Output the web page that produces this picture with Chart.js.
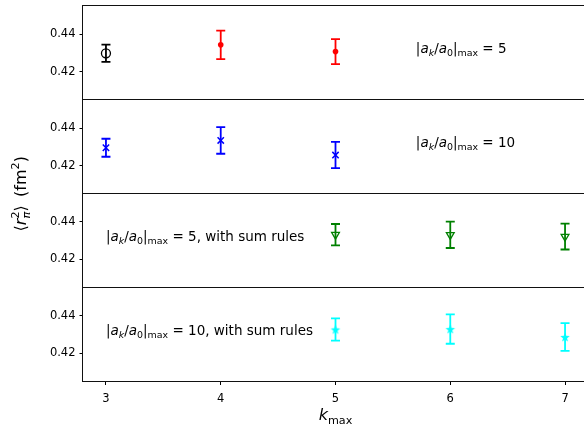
<!DOCTYPE html>
<html>
<head>
<meta charset="utf-8">
<script src="https://cdn.jsdelivr.net/npm/chart.js@4"></script>
<style>
  html, body { margin: 0; padding: 0; background: #fff; overflow: hidden; }
  #wrap { width: 600px; height: 429px; }
</style>
</head>
<body>
<div id="wrap"><canvas id="radiusChart" width="600" height="429"></canvas></div>
<script>
// valori di k_max
var kNoSum = [3, 4, 5];
var kSum = [5, 6, 7];
var kTicks = [3, 4, 5, 6, 7];
var rTicks = [0.42, 0.44];

// |a_k/a_0|max = 5 (il primo punto ha un marker diverso)
var r5First = [0.4298];
var r5FirstErr = [0.0046];
var r5 = [0.4343, 0.4307];
var r5Err = [0.0076, 0.0067];

// |a_k/a_0|max = 10
var r10 = [0.4295, 0.4334, 0.4256];
var r10Err = [0.0048, 0.0071, 0.0070];

// con sum rules
var r5Sum = [0.4332, 0.4331, 0.4322];
var r5SumErr = [0.0057, 0.0070, 0.0069];
var r10Sum = [0.4327, 0.4329, 0.4287];
var r10SumErr = [0.0059, 0.0078, 0.0074];

var FONT = '"DejaVu Sans", sans-serif';

function points(ks, vals) {
    return vals.map(function (v, i) { return { x: ks[i], y: v }; });
}

// stella piena per l'ultimo pannello
function starMarker(color) {
    var c = document.createElement('canvas');
    c.width = 12; c.height = 12;
    var g = c.getContext('2d');
    g.fillStyle = color;
    g.beginPath();
    for (var i = 0; i < 10; i++) {
        var r = i % 2 === 0 ? 5 : 2.1;
        var a = -Math.PI / 2 + i * Math.PI / 5;
        var px = 6 + r * Math.cos(a), py = 6.5 + r * Math.sin(a);
        if (i === 0) g.moveTo(px, py); else g.lineTo(px, py);
    }
    g.closePath();
    g.fill();
    return c;
}

// testo stile mathtext: segmenti con corsivo, pedici e apici
function drawMath(ctx, parts, x, y, size, align) {
    function fontOf(p) {
        var s = (p.sub || p.sup) ? size * 0.7 : size;
        return (p.it ? 'italic ' : '') + s + 'px ' + FONT;
    }
    var widths = [], total = 0, prevStart = 0, prevW = 0;
    parts.forEach(function (p) {
        ctx.font = fontOf(p);
        widths.push(ctx.measureText(p.t).width);
    });
    // larghezza totale
    var cx = 0;
    parts.forEach(function (p, i) {
        if (p.over) {
            cx += Math.max(0, widths[i] - prevW);
            prevW = Math.max(prevW, widths[i]);
        } else {
            prevStart = cx;
            prevW = widths[i];
            cx += widths[i];
        }
    });
    total = cx;
    var x0 = align === 'center' ? x - total / 2 : x;
    cx = x0;
    ctx.textBaseline = 'alphabetic';
    ctx.textAlign = 'left';
    parts.forEach(function (p, i) {
        ctx.font = fontOf(p);
        var dy = p.sub ? size * 0.22 : (p.sup ? -size * 0.42 : 0);
        if (p.over) {
            ctx.fillText(p.t, prevStart, y + dy);
            cx += Math.max(0, widths[i] - prevW);
            prevW = Math.max(prevW, widths[i]);
        } else {
            ctx.fillText(p.t, cx, y + dy);
            prevStart = cx;
            prevW = widths[i];
            cx += widths[i];
        }
    });
}

function ratioLabel(n, tail) {
    return [
        { t: '|' }, { t: 'a', it: true }, { t: 'k', it: true, sub: true },
        { t: '/' }, { t: 'a', it: true }, { t: '0', sub: true },
        { t: '|' }, { t: 'max', sub: true },
        { t: ' = ' + n + (tail || '') }
    ];
}

var notes = [
    { axis: 'p1', k: 5.7, r: 0.43, parts: ratioLabel(5) },
    { axis: 'p2', k: 5.7, r: 0.43, parts: ratioLabel(10) },
    { axis: 'p3', k: 3.0, r: 0.43, parts: ratioLabel(5, ', with sum rules') },
    { axis: 'p4', k: 3.0, r: 0.43, parts: ratioLabel(10, ', with sum rules') }
];
var panelIds = ['p1', 'p2', 'p3', 'p4'];

var errorBars = {
    id: 'errorBars',
    beforeDatasetsDraw: function (chart) {
        var ctx = chart.ctx;
        ctx.save();
        chart.data.datasets.forEach(function (ds, di) {
            var meta = chart.getDatasetMeta(di);
            var ys = chart.scales[ds.yAxisID];
            ctx.strokeStyle = ds.pointBorderColor;
            ctx.lineWidth = 1.8;
            meta.data.forEach(function (pt, i) {
                var v = ds.data[i].y, e = ds.errors[i];
                var top = ys.getPixelForValue(v + e), bot = ys.getPixelForValue(v - e);
                var x = pt.x;
                ctx.beginPath();
                ctx.moveTo(x, top); ctx.lineTo(x, bot);
                ctx.moveTo(x - 4.5, top); ctx.lineTo(x + 4.5, top);
                ctx.moveTo(x - 4.5, bot); ctx.lineTo(x + 4.5, bot);
                ctx.stroke();
            });
        });
        ctx.restore();
    },
    afterDraw: function (chart) {
        var ctx = chart.ctx, area = chart.chartArea;
        ctx.save();
        // cornici dei pannelli
        ctx.strokeStyle = '#111';
        ctx.lineWidth = 1;
        panelIds.forEach(function (id) {
            var s = chart.scales[id];
            var l = Math.round(area.left) - 0.5, t = Math.round(s.top) - 0.5;
            var r = Math.round(area.right) + 0.5, b = Math.round(s.bottom) - 0.5;
            ctx.strokeRect(l, t, r - l, b - t);
        });
        // etichette nei pannelli
        ctx.fillStyle = '#000';
        notes.forEach(function (n) {
            var x = chart.scales.x.getPixelForValue(n.k);
            var y = chart.scales[n.axis].getPixelForValue(n.r);
            drawMath(ctx, n.parts, x, y, 13.5, 'left');
        });
        // titolo asse x
        drawMath(ctx, [{ t: 'k', it: true }, { t: 'max', sub: true }],
            (area.left + area.right) / 2, 420, 16, 'center');
        // titolo asse y (ruotato)
        ctx.translate(26, (area.top + area.bottom) / 2);
        ctx.rotate(-Math.PI / 2);
        drawMath(ctx, [
            { t: '\u27e8' }, { t: 'r', it: true }, { t: '\u03c0', it: true, sub: true },
            { t: '2', sup: true, over: true }, { t: '\u27e9 \u2009(fm' }, { t: '2', sup: true }, { t: ')' }
        ], 0, 0, 16, 'center');
        ctx.restore();
    }
};

function panelAxis() {
    return {
        type: 'linear',
        position: 'left',
        stack: 'panels',
        stackWeight: 1,
        min: 0.405,
        max: 0.455,
        afterBuildTicks: function (scale) {
            scale.ticks = rTicks.map(function (v) { return { value: v }; });
        },
        afterFit: function (scale) {
            scale.width = 83;
            scale.paddingTop = 0;
            scale.paddingBottom = 0;
        },
        grid: { drawOnChartArea: false, tickLength: 3.5, color: '#000' },
        border: { display: false },
        ticks: {
            color: '#000',
            padding: 4,
            font: { family: FONT, size: 11.5 },
            callback: function (v) { return v.toFixed(2); }
        }
    };
}

var ctx = document.getElementById('radiusChart').getContext('2d');

new Chart(ctx, {
    type: 'scatter',
    data: {
        datasets: [{
            data: points(kNoSum.slice(0, 1), r5First),
            errors: r5FirstErr,
            yAxisID: 'p1',
            pointStyle: 'circle',
            pointRadius: 4.5,
            pointBackgroundColor: 'rgba(0,0,0,0)',
            pointBorderColor: '#000000',
            pointBorderWidth: 1.3
        }, {
            data: points(kNoSum.slice(1), r5),
            errors: r5Err,
            yAxisID: 'p1',
            pointStyle: 'circle',
            pointRadius: 2.8,
            pointBackgroundColor: '#ff0000',
            pointBorderColor: '#ff0000',
            pointBorderWidth: 0
        }, {
            data: points(kNoSum, r10),
            errors: r10Err,
            yAxisID: 'p2',
            pointStyle: 'crossRot',
            pointRadius: 4.5,
            pointBorderColor: '#0000ff',
            pointBorderWidth: 1.5
        }, {
            data: points(kSum, r5Sum),
            errors: r5SumErr,
            yAxisID: 'p3',
            pointStyle: 'triangle',
            rotation: 180,
            pointRadius: 4.5,
            pointBackgroundColor: 'rgba(0,0,0,0)',
            pointBorderColor: '#008000',
            pointBorderWidth: 1.3
        }, {
            data: points(kSum, r10Sum),
            errors: r10SumErr,
            yAxisID: 'p4',
            pointStyle: starMarker('#00ffff'),
            pointBorderColor: '#00ffff'
        }]
    },
    options: {
        responsive: false,
        animation: false,
        devicePixelRatio: 1,
        layout: { padding: { top: 6, left: 0, right: 12, bottom: 0 } },
        plugins: { legend: { display: false }, tooltip: { enabled: false } },
        scales: {
            x: {
                type: 'linear',
                min: 2.8,
                max: 7.2,
                afterBuildTicks: function (scale) {
                    scale.ticks = kTicks.map(function (v) { return { value: v }; });
                },
                afterFit: function (scale) { scale.height = 47.5; },
                grid: { drawOnChartArea: false, tickLength: 3.5, color: '#000' },
                border: { display: false },
                ticks: {
                    color: '#000',
                    padding: 7,
                    font: { family: FONT, size: 11.5 }
                }
            },
            p4: panelAxis(),
            p3: panelAxis(),
            p2: panelAxis(),
            p1: panelAxis()
        }
    },
    plugins: [errorBars]
});
</script>
</body>
</html>
